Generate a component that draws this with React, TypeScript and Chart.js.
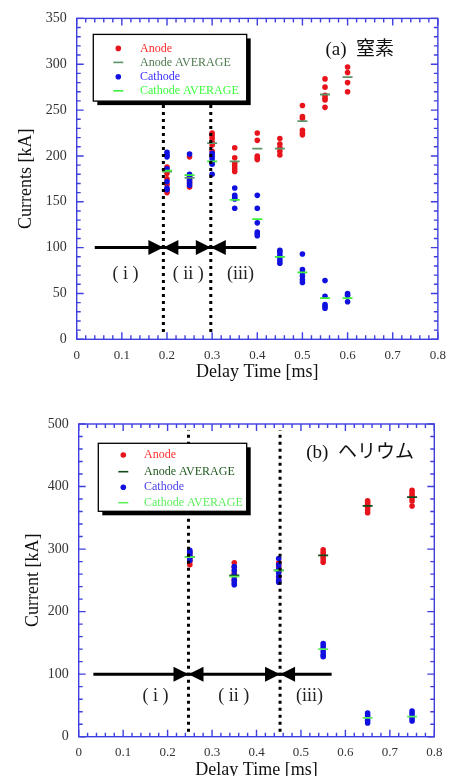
import React, { useEffect, useRef } from "react";
import { Chart, registerables } from "chart.js";

Chart.register(...registerables);

const SERIF = "'Liberation Serif', 'Times New Roman', 'Noto Sans CJK JP', serif";

// ---------- shared ----------
const xTickValues = [0, 0.1, 0.2, 0.3, 0.4, 0.5, 0.6, 0.7, 0.8];
const xTickLabels = ["0", "0.1", "0.2", "0.3", "0.4", "0.5", "0.6", "0.7", "0.8"];
const xTitle = "Delay Time [ms]";
const seriesLabels = ["Anode", "Anode AVERAGE", "Cathode", "Cathode AVERAGE"];
const regionLabels = ["( i )", "( ii )", "(iii)"];

// ---------- (a) 窒素 ----------
const panelTitleA = "(a)  窒素";
const yTitleA = "Currents [kA]";
const yTickValuesA = [0, 50, 100, 150, 200, 250, 300, 350];
const yTickLabelsA = ["0", "50", "100", "150", "200", "250", "300", "350"];
const delayA = [0.2, 0.25, 0.3, 0.35, 0.4, 0.45, 0.5, 0.55, 0.6];
const anodeA = [
  [188, 181, 175, 169, 163, 160],
  [199, 178, 173, 170, 166],
  [225, 222, 219, 215, 212, 205],
  [209, 198, 192, 189, 186, 183],
  [225, 217, 200, 198, 196],
  [219, 213, 209, 205, 201],
  [255, 243, 241, 228, 225, 223],
  [284, 275, 266, 263, 261, 253],
  [297, 291, 280, 270],
];
const anodeAvgA = [183, 176, 214, 194, 208, 208, 238, 267, 286];
const cathodeA = [
  [204, 201, 199, 186, 172, 165, 163],
  [202, 180, 177, 174, 171, 168],
  [203, 200, 197, 193, 191, 180],
  [165, 157, 155, 153, 143],
  [157, 143, 127, 117, 115, 113],
  [97, 95, 92, 89, 86, 83],
  [93, 76, 73, 69, 65, 62],
  [64, 47, 38, 36, 34],
  [50, 48, 41],
];
const cathodeAvgA = [184, 179, 194, 152, 131, 90, 73, 45, 45];
const dividersA = [0.192, 0.297];
const arrowSpanA = [0.04, 0.398];
const regionLabelXA = [0.108, 0.247, 0.363];
const regionLabelYA = 71;
const panelTitlePosA = [0.551, 315];

// ---------- (b) ヘリウム ----------
const panelTitleB = "(b)  ヘリウム";
const yTitleB = "Current [kA]";
const yTickValuesB = [0, 100, 200, 300, 400, 500];
const yTickLabelsB = ["0", "100", "200", "300", "400", "500"];
const delayB = [0.25, 0.35, 0.45, 0.55, 0.65, 0.75];
const anodeB = [
  [294, 289, 284, 280, 275],
  [278, 271, 262, 256, 250],
  [278, 272, 264, 256, 252],
  [299, 295, 291, 287, 283, 279],
  [377, 374, 371, 367, 363, 358],
  [394, 390, 386, 382, 377, 369],
];
const anodeAvgB = [287, 258, 266, 290, 369, 383];
const cathodeB = [
  [298, 295, 291, 286, 282],
  [272, 266, 259, 251, 246, 243],
  [285, 275, 268, 262, 256, 250, 247],
  [149, 145, 141, 136, 131, 128],
  [38, 34, 30, 26, 22],
  [41, 37, 33, 29, 25],
];
const cathodeAvgB = [287, 256, 266, 140, 30, 32];
const dividersB = [0.247, 0.453];
const arrowSpanB = [0.033, 0.569];
const regionLabelXB = [0.173, 0.349, 0.519];
const regionLabelYB = 64;
const panelTitlePosB = [0.512, 453];

const toPoints = (xs: number[], groups: number[][]) =>
  xs.flatMap((x, i) => groups[i].map((y) => ({ x, y })));
const toAvg = (xs: number[], avgs: number[]) => xs.map((x, i) => ({ x, y: avgs[i] }));

const FRAME = "#3f3fe0";

function makeConfig(p: any) {
  const framePlugin = {
    id: "frame",
    beforeDatasetsDraw(chart: any) {
      const { ctx, chartArea: a, scales } = chart;
      const xs = scales.x;
      const ys = scales.y;
      ctx.save();
      ctx.strokeStyle = FRAME;
      ctx.lineWidth = 1.4;
      ctx.strokeRect(a.left, a.top, a.right - a.left, a.bottom - a.top);
      ctx.beginPath();
      const nx = Math.round((xs.max - xs.min) / 0.02);
      for (let k = 0; k <= nx; k++) {
        const px = xs.getPixelForValue(xs.min + k * 0.02);
        const len = k % 5 === 0 ? 7 : 4;
        ctx.moveTo(px, a.bottom);
        ctx.lineTo(px, a.bottom - len);
        ctx.moveTo(px, a.top);
        ctx.lineTo(px, a.top + len);
      }
      const ny = Math.round((ys.max - ys.min) / p.yMinor);
      for (let k = 0; k <= ny; k++) {
        const py = ys.getPixelForValue(ys.min + k * p.yMinor);
        const len = k % 5 === 0 ? 7 : 4;
        ctx.moveTo(a.left, py);
        ctx.lineTo(a.left + len, py);
        ctx.moveTo(a.right, py);
        ctx.lineTo(a.right - len, py);
      }
      ctx.stroke();
      ctx.restore();
    },
  };

  const regionPlugin = {
    id: "regions",
    afterDatasetsDraw(chart: any) {
      const { ctx, scales } = chart;
      const x = scales.x;
      const y = scales.y;
      ctx.save();
      ctx.strokeStyle = "#000";
      ctx.fillStyle = "#000";
      ctx.lineWidth = 3;
      ctx.setLineDash([3, 4]);
      for (const d of p.dividers) {
        const px = x.getPixelForValue(d);
        ctx.beginPath();
        ctx.moveTo(px, y.getPixelForValue(8));
        ctx.lineTo(px, y.getPixelForValue(p.dividerTop));
        ctx.stroke();
      }
      ctx.setLineDash([]);
      const ay = y.getPixelForValue(100);
      ctx.beginPath();
      ctx.moveTo(x.getPixelForValue(p.arrowSpan[0]), ay);
      ctx.lineTo(x.getPixelForValue(p.arrowSpan[1]), ay);
      ctx.stroke();
      for (const d of p.dividers) {
        const px = x.getPixelForValue(d);
        for (const dir of [-1, 1]) {
          ctx.beginPath();
          ctx.moveTo(px, ay);
          ctx.lineTo(px + dir * 15, ay - 7.5);
          ctx.lineTo(px + dir * 15, ay + 7.5);
          ctx.closePath();
          ctx.fill();
        }
      }
      ctx.fillStyle = "#222";
      ctx.font = `18px ${SERIF}`;
      ctx.textAlign = "center";
      ctx.textBaseline = "middle";
      regionLabels.forEach((t, i) => {
        ctx.fillText(t, x.getPixelForValue(p.labelX[i]), y.getPixelForValue(p.labelY));
      });
      ctx.font = `19px ${SERIF}`;
      ctx.textAlign = "left";
      ctx.fillStyle = "#111";
      ctx.fillText(p.title, x.getPixelForValue(p.titlePos[0]), y.getPixelForValue(p.titlePos[1]));
      ctx.restore();
    },
  };

  const legendPlugin = {
    id: "boxLegend",
    afterDraw(chart: any) {
      const { ctx, chartArea: a } = chart;
      const L = p.legend;
      const bx = a.left + L.left;
      const by = a.top + L.top;
      ctx.save();
      ctx.fillStyle = "#000";
      ctx.fillRect(bx + 4, by + 4, L.width, L.height);
      ctx.fillStyle = "#fff";
      ctx.fillRect(bx, by, L.width, L.height);
      ctx.strokeStyle = "#000";
      ctx.lineWidth = 1.3;
      ctx.strokeRect(bx, by, L.width, L.height);
      ctx.font = `12px ${SERIF}`;
      ctx.textBaseline = "middle";
      ctx.textAlign = "left";
      chart.data.datasets.forEach((ds: any, i: number) => {
        const cy = by + L.rows[i];
        const mx = bx + L.markerX;
        if (ds.pointStyle === "line") {
          ctx.strokeStyle = ds.pointBorderColor;
          ctx.lineWidth = 1.6;
          ctx.beginPath();
          ctx.moveTo(mx - 5, cy);
          ctx.lineTo(mx + 5, cy);
          ctx.stroke();
        } else {
          ctx.fillStyle = ds.pointBackgroundColor;
          ctx.beginPath();
          ctx.arc(mx, cy, 2.8, 0, Math.PI * 2);
          ctx.fill();
        }
        ctx.fillStyle = p.legendText[i];
        ctx.fillText(ds.label, bx + L.textX, cy);
      });
      ctx.restore();
    },
  };

  return {
    type: "scatter",
    data: {
      datasets: [
        {
          label: seriesLabels[0],
          data: toPoints(p.delay, p.anode),
          pointBackgroundColor: p.colors[0],
          pointBorderWidth: 0,
          pointRadius: 2.8,
          order: 3,
        },
        {
          label: seriesLabels[1],
          data: toAvg(p.delay, p.anodeAvg),
          pointStyle: "line",
          pointRadius: 5,
          pointBorderColor: p.colors[1],
          pointBorderWidth: 1.8,
          order: 1,
        },
        {
          label: seriesLabels[2],
          data: toPoints(p.delay, p.cathode),
          pointBackgroundColor: p.colors[2],
          pointBorderWidth: 0,
          pointRadius: 2.8,
          order: 2,
        },
        {
          label: seriesLabels[3],
          data: toAvg(p.delay, p.cathodeAvg),
          pointStyle: "line",
          pointRadius: 5,
          pointBorderColor: p.colors[3],
          pointBorderWidth: 1.8,
          order: 0,
        },
      ],
    },
    options: {
      responsive: false,
      animation: false,
      events: [],
      layout: { padding: p.padding },
      plugins: { legend: { display: false }, tooltip: { enabled: false } },
      scales: {
        x: {
          type: "linear",
          min: 0,
          max: 0.8,
          afterBuildTicks: (s: any) => {
            s.ticks = xTickValues.map((v) => ({ value: v }));
          },
          afterFit: (s: any) => {
            s.height = p.xAxisHeight;
          },
          ticks: {
            callback: (_v: any, i: number) => xTickLabels[i],
            font: { family: SERIF, size: 13 },
            color: "#333",
            padding: 8,
            autoSkip: false,
            maxRotation: 0,
          },
          grid: { display: false, drawTicks: false },
          border: { display: false },
          title: {
            display: true,
            text: xTitle,
            color: "#111",
            font: { family: SERIF, size: 18 },
            padding: { top: 0, bottom: p.xTitlePad },
          },
        },
        y: {
          type: "linear",
          min: 0,
          max: p.yMax,
          afterBuildTicks: (s: any) => {
            s.ticks = p.yTicks.map((v: number) => ({ value: v }));
          },
          afterFit: (s: any) => {
            s.width = p.yAxisWidth;
          },
          ticks: {
            callback: (_v: any, i: number) => p.yTickLabels[i],
            font: { family: SERIF, size: 14 },
            color: "#333",
            padding: 10,
            autoSkip: false,
          },
          grid: { display: false, drawTicks: false },
          border: { display: false },
          title: {
            display: true,
            text: p.yTitle,
            color: "#111",
            font: { family: SERIF, size: 18 },
            padding: { top: p.yTitlePad, bottom: 0 },
          },
        },
      },
    },
    plugins: [framePlugin, regionPlugin, legendPlugin],
  };
}

const panelA = {
  delay: delayA,
  anode: anodeA,
  anodeAvg: anodeAvgA,
  cathode: cathodeA,
  cathodeAvg: cathodeAvgA,
  colors: ["#e8141c", "#5c9468", "#1010e0", "#3cf03c"],
  legendText: ["#ff2a2a", "#4f7a4f", "#3a30ff", "#3cff3c"],
  yMax: 350,
  yMinor: 10,
  yTicks: yTickValuesA,
  yTickLabels: yTickLabelsA,
  yTitle: yTitleA,
  padding: { top: 18.3, right: 12.3, left: 0, bottom: 0 },
  xAxisHeight: 48.7,
  yAxisWidth: 76.7,
  xTitlePad: 4.5,
  yTitlePad: 15,
  dividers: dividersA,
  dividerTop: 280,
  arrowSpan: arrowSpanA,
  labelX: regionLabelXA,
  labelY: regionLabelYA,
  title: panelTitleA,
  titlePos: panelTitlePosA,
  legend: { left: 16.6, top: 16, width: 153.4, height: 66.7, rows: [14, 28, 42.4, 56.4], markerX: 25, textX: 46.7 },
};

const panelB = {
  delay: delayB,
  anode: anodeB,
  anodeAvg: anodeAvgB,
  cathode: cathodeB,
  cathodeAvg: cathodeAvgB,
  colors: ["#e8141c", "#0f4a1a", "#1010e0", "#5cf05c"],
  legendText: ["#ff3030", "#1f5a1f", "#4a40ee", "#5cf05c"],
  yMax: 500,
  yMinor: 20,
  yTicks: yTickValuesB,
  yTickLabels: yTickLabelsB,
  yTitle: yTitleB,
  padding: { top: 24, right: 19.7, left: 0, bottom: 0 },
  xAxisHeight: 63.3,
  yAxisWidth: 78.7,
  xTitlePad: 19.2,
  yTitlePad: 22.5,
  dividers: dividersB,
  dividerTop: 490,
  arrowSpan: arrowSpanB,
  labelX: regionLabelXB,
  labelY: regionLabelYB,
  title: panelTitleB,
  titlePos: panelTitlePosB,
  legend: { left: 19.6, top: 19.3, width: 148.4, height: 68, rows: [11.7, 28.4, 44, 59.4], markerX: 25, textX: 45.7 },
};

function Panel({ spec, top, height }: { spec: any; top: number; height: number }) {
  const ref = useRef<HTMLCanvasElement | null>(null);
  useEffect(() => {
    if (!ref.current) return;
    const chart = new Chart(ref.current, makeConfig(spec) as any);
    return () => chart.destroy();
  }, [spec]);
  return (
    <div style={{ position: "absolute", left: 0, top, width: 454, height }}>
      <canvas ref={ref} width={454} height={height} style={{ width: 454, height, display: "block" }} />
    </div>
  );
}

export default function App() {
  return (
    <div
      style={{
        position: "absolute",
        left: 0,
        top: 0,
        width: 454,
        height: 776,
        overflow: "hidden",
        background: "#fff",
      }}
    >
      <Panel spec={panelA} top={0} height={388} />
      <Panel spec={panelB} top={400} height={400} />
    </div>
  );
}
